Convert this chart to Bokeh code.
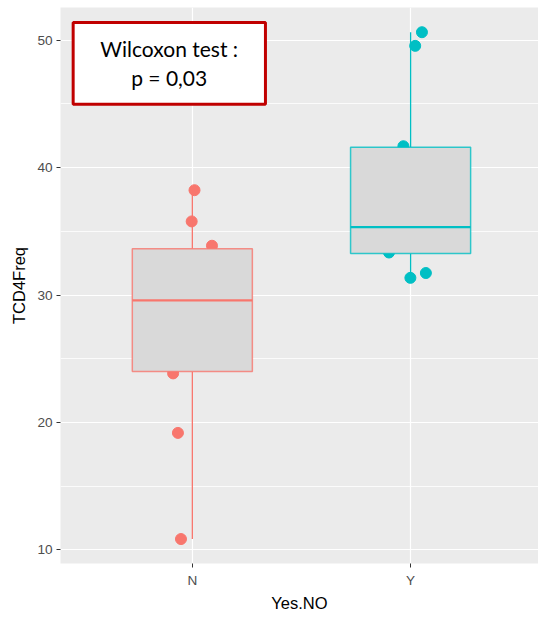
from bokeh.plotting import figure
from bokeh.models import (BoxAnnotation, Label, FixedTicker, SingleIntervalTicker,
                          ColumnDataSource, Range1d)
from bokeh.embed import file_html
from bokeh.resources import INLINE

# ---- data ----
categories = ["N", "Y"]
group_colors = ["#F8766D", "#00BFC4"]
q1 = [24.0, 33.26]
median = [29.59, 35.33]
q3 = [33.64, 41.6]
whisker_low = [10.85, 31.35]
whisker_high = [38.23, 50.63]

pt_group = ["N", "N", "N", "N", "N", "N", "Y", "Y", "Y", "Y", "Y", "Y"]
pt_jitter = [0.010, -0.003, 0.090, -0.088, -0.066, -0.052,
             0.052, 0.021, -0.033, -0.099, -0.001, 0.070]
pt_value = [38.23, 35.78, 33.87, 23.85, 19.18, 10.85,
            50.63, 49.56, 41.68, 33.34, 31.35, 31.73]

x_title = "Yes.NO"
y_title = "TCD4Freq"
note_lines = ["Wilcoxon test :", "p = 0,03"]

# ---- figure ----
p = figure(width=538, height=614, output_backend="svg", toolbar_location=None,
           x_range=Range1d(0.396, 2.586), y_range=Range1d(8.93, 52.57),
           min_border_left=60, min_border_right=0, min_border_top=7,
           min_border_bottom=51)
p.background_fill_color = "#EBEBEB"
p.border_fill_color = "white"
p.outline_line_color = None

pos = {c: i + 1 for i, c in enumerate(categories)}
col = {c: group_colors[i] for i, c in enumerate(categories)}

pts = ColumnDataSource(dict(
    x=[pos[g] + j for g, j in zip(pt_group, pt_jitter)],
    y=pt_value,
    c=[col[g] for g in pt_group],
))
p.scatter("x", "y", source=pts, size=11, color="c", line_color="c")

bw = 0.55
xs = [pos[c] for c in categories]
box = ColumnDataSource(dict(
    x=xs, left=[x - bw / 2 for x in xs], right=[x + bw / 2 for x in xs],
    q1=q1, q3=q3, med=median, lo=whisker_low, hi=whisker_high, c=group_colors,
))
p.segment("x", "q3", "x", "hi", source=box, line_color="c", line_width=1.3)
p.segment("x", "q1", "x", "lo", source=box, line_color="c", line_width=1.3)
p.quad(left="left", right="right", bottom="q1", top="q3", source=box,
       fill_color="#D9D9D9", line_color="c", line_width=1.5, line_alpha=0.8)
p.segment("left", "med", "right", "med", source=box, line_color="c", line_width=2.3)

# axes
p.xaxis.ticker = FixedTicker(ticks=xs)
p.xaxis.major_label_overrides = {pos[c]: c for c in categories}
p.yaxis.ticker = SingleIntervalTicker(interval=10, num_minor_ticks=2)
for ax in (p.xaxis, p.yaxis):
    ax.axis_line_color = None
    ax.major_tick_line_color = "#333333"
    ax.major_tick_out = 4
    ax.major_tick_in = 0
    ax.minor_tick_line_color = None
    ax.major_label_text_font = "Liberation Sans"
    ax.major_label_text_font_size = "13.6px"
    ax.major_label_text_color = "#4D4D4D"
    ax.axis_label_text_font = "Liberation Sans"
    ax.axis_label_text_font_size = "16.5px"
    ax.axis_label_text_font_style = "normal"
    ax.axis_label_text_color = "black"
p.xaxis.axis_label = x_title
p.yaxis.axis_label = y_title
p.xaxis.major_label_standoff = 5
p.xaxis.axis_label_standoff = 3
p.yaxis.major_label_standoff = 4
p.yaxis.axis_label_standoff = 6

p.xgrid.grid_line_color = "white"
p.xgrid.grid_line_width = 1.2
p.ygrid.grid_line_color = "white"
p.ygrid.grid_line_width = 1.2
p.ygrid.minor_grid_line_color = "white"
p.ygrid.minor_grid_line_width = 0.8

# annotation box
p.add_layout(BoxAnnotation(left=0.454, right=1.335, bottom=44.97, top=51.39,
                           fill_color="white", fill_alpha=1.0,
                           line_color="#C00000", line_width=3, line_alpha=1.0))
p.add_layout(Label(x=0.894, y=49.37, text=note_lines[0], text_align="center",
                   text_baseline="middle", text_font="Lato",
                   text_font_size="21px", text_color="black"))
p.add_layout(Label(x=0.894, y=47.07, text=note_lines[1], text_align="center",
                   text_baseline="middle", text_font="Lato",
                   text_font_size="21px", text_color="black"))

open("out.html", "w").write(file_html(p, INLINE))
